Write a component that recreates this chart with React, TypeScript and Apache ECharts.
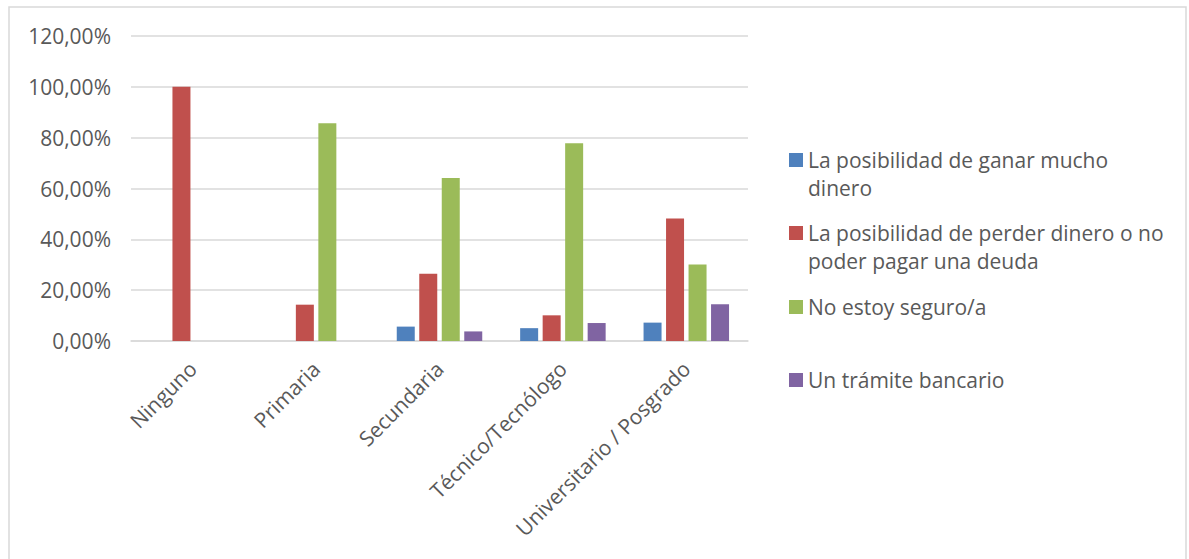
import React, { useEffect, useRef } from "react";
import * as echarts from "echarts";

// Nivel educativo (eje X)
const categories = [
  "Ninguno",
  "Primaria",
  "Secundaria",
  "Técnico/Tecnólogo",
  "Universitario / Posgrado",
];

// Porcentaje de respuestas por nivel educativo
const ganarDinero = [0, 0, 5.66, 5.05, 7.23];
const perderDinero = [100, 14.29, 26.42, 10.1, 48.19];
const noSeguro = [0, 85.71, 64.15, 77.78, 30.12];
const tramiteBancario = [0, 0, 3.77, 7.07, 14.46];

const seriesNames = [
  "La posibilidad de ganar mucho dinero",
  "La posibilidad de perder dinero o no poder pagar una deuda",
  "No estoy seguro/a",
  "Un trámite bancario",
];

// Texto de la leyenda partido en líneas
const legendLines: Record<string, string[]> = {
  [seriesNames[0]]: ["La posibilidad de ganar mucho", "dinero"],
  [seriesNames[1]]: ["La posibilidad de perder dinero o no", "poder pagar una deuda"],
  [seriesNames[2]]: ["No estoy seguro/a"],
  [seriesNames[3]]: ["Un trámite bancario"],
};

const yTicks = [0, 20, 40, 60, 80, 100, 120];

const colors = ["#4f81bd", "#c0504d", "#9bbb59", "#8064a2"];
const FONT = "'Open Sans', sans-serif";
const TEXT_COLOR = "#595959";
const LINE_H = 28;

export default function App() {
  const ref = useRef<HTMLDivElement>(null);

  useEffect(() => {
    if (!ref.current) return;
    const chart = echarts.init(ref.current, undefined, { renderer: "svg" });

    const values = [ganarDinero, perderDinero, noSeguro, tramiteBancario];
    // centro vertical del marcador de cada entrada
    const markerCenters = [160, 233, 307, 380];

    const legends = seriesNames.map((name, i) => {
      const lines = legendLines[name];
      // con dos líneas se antepone una vacía para que el marcador quede a la
      // altura de la primera línea
      const text = lines.length > 1 ? "\n" + lines.join("\n") : lines[0];
      const blockH = (lines.length > 1 ? 3 : 1) * LINE_H;
      return {
        data: [name],
        orient: "vertical",
        left: 789,
        top: markerCenters[i] - blockH / 2,
        padding: 0,
        itemWidth: 14,
        itemHeight: 14,
        itemGap: 0,
        icon: "rect",
        selectedMode: false,
        formatter: () => text,
        textStyle: {
          fontFamily: FONT,
          fontSize: 21,
          color: TEXT_COLOR,
          lineHeight: LINE_H,
        },
      };
    });

    chart.setOption({
      animation: false,
      backgroundColor: "#ffffff",
      textStyle: { fontFamily: FONT },
      graphic: [
        {
          type: "rect",
          shape: { x: 9, y: 7, width: 1177, height: 600 },
          style: { fill: "none", stroke: "#d9d9d9", lineWidth: 1.5 },
          silent: true,
        },
      ],
      legend: legends,
      grid: { left: 131, right: 441, top: 36, bottom: 218 },
      xAxis: {
        type: "category",
        data: categories,
        axisLine: { lineStyle: { color: "#d9d9d9", width: 1.5 } },
        axisTick: { show: false },
        axisLabel: {
          rotate: 45,
          margin: 24,
          fontFamily: FONT,
          fontSize: 21,
          color: TEXT_COLOR,
          interval: 0,
        },
      },
      yAxis: {
        type: "value",
        min: yTicks[0],
        max: yTicks[yTicks.length - 1],
        interval: 20,
        axisLine: { show: false },
        axisTick: { show: false },
        splitLine: { lineStyle: { color: "#d9d9d9", width: 1.5 } },
        axisLabel: {
          margin: 20,
          fontFamily: FONT,
          fontSize: 21,
          color: TEXT_COLOR,
          formatter: (v: number) => v.toFixed(2).replace(".", ",") + "%",
        },
      },
      series: seriesNames.map((name, i) => ({
        name,
        type: "bar",
        data: values[i],
        barWidth: 18,
        barGap: "25%",
        itemStyle: { color: colors[i] },
      })),
    });

    return () => chart.dispose();
  }, []);

  return (
    <div
      ref={ref}
      style={{ position: "fixed", left: 0, top: 0, width: 1189, height: 559 }}
    />
  );
}
